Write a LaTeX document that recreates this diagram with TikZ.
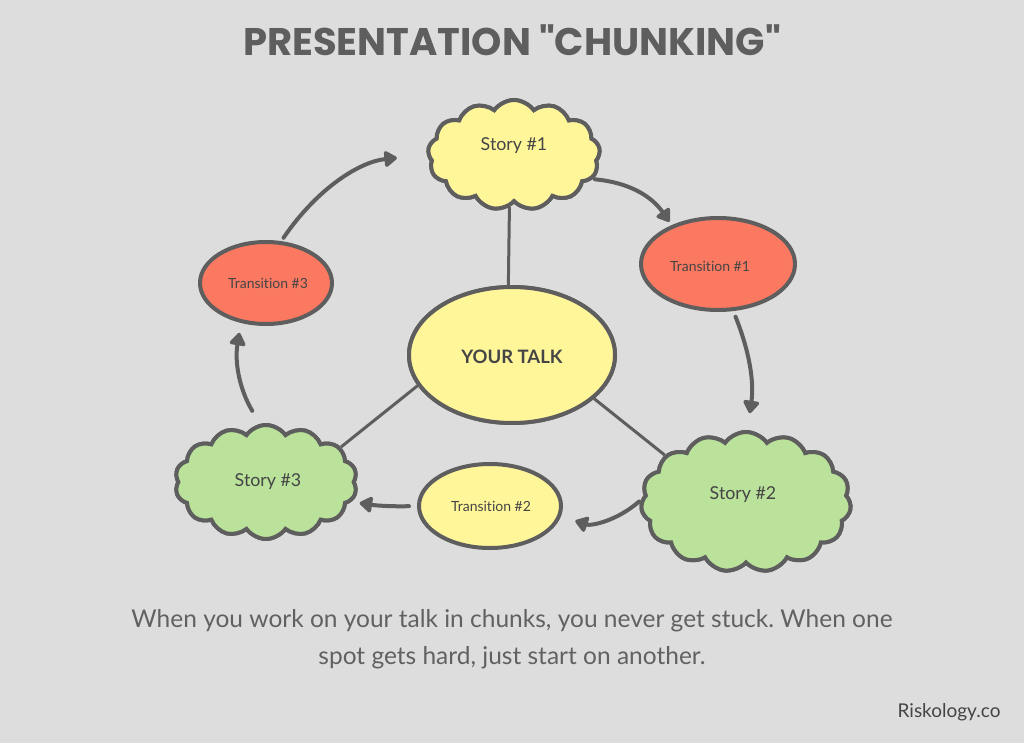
\documentclass[tikz,border=0pt]{standalone}
\usepackage{fontspec}
\setmainfont{Lato}[Ligatures={NoCommon}]
\newfontfamily\titlefont{Poppins}
\usetikzlibrary{shapes.symbols,shapes.geometric,arrows.meta}
\frenchspacing
\definecolor{bg}{HTML}{DDDDDD}
\definecolor{yel}{HTML}{FFF69A}
\definecolor{redb}{HTML}{FB7961}
\definecolor{grn}{HTML}{BAE29A}
\definecolor{edge}{HTML}{5E5E5E}
\definecolor{txt}{HTML}{454545}
\tikzset{
  blob/.style={ellipse, draw=edge, line width=4pt, inner sep=0pt, text=txt},
  puff/.style={cloud, cloud ignores aspect, draw=edge, line width=4pt, inner sep=0pt, text=txt},
  link/.style={draw=edge, line width=3pt},
  arr/.style={draw=edge, line width=4pt, line cap=round, -{Triangle[length=14pt,width=18pt,round]}},
  story/.style={text=txt, font=\fontsize{17.8}{20}\selectfont},
  trans/.style={text=txt, font=\fontsize{14}{16}\selectfont},
  cloudA/.style={puff, fill=yel, cloud puffs=13, cloud puff arc=110, minimum width=172pt, minimum height=110pt},
  cloudB/.style={puff, fill=grn, cloud puffs=15, cloud puff arc=110, minimum width=210pt, minimum height=140pt},
  cloudC/.style={puff, fill=grn, cloud puffs=14, cloud puff arc=110, minimum width=182pt, minimum height=114pt},
  talkshape/.style={blob, fill=yel, minimum width=206pt, minimum height=136pt},
}
\begin{document}
\begin{tikzpicture}[x=1pt,y=-1pt]
\fill[bg] (0,0) rectangle (1024,743);
\useasboundingbox (0,0) rectangle (1024,743);

\node[text=edge, font=\titlefont\bfseries\fontsize{38.5}{44}\selectfont] (title) at (512,40) {PRESENTATION "CHUNKING"};

% shapes (first pass, to place the links)
\node[cloudA] (s1) at (514,155) {};
\node[talkshape] (talk) at (512,355) {};
\node[cloudB] (s2) at (746,502) {};
\node[cloudC] (s3) at (266,482) {};

\draw[link] (s1.265) -- (talk.93);
\draw[link] (talk.198) -- (s3.25);
\draw[link] (talk.-28) -- (s2.150);

% shapes drawn again over the link ends
\node[cloudA] (s1b) at (s1.center) {};
\node[talkshape] (talkb) at (talk.center) {};
\node[cloudB] (s2b) at (s2.center) {};
\node[cloudC] (s3b) at (s3.center) {};

\node[story] (s1t) at ([yshift=9pt]s1.center) {Story \#1};
\node[story] (s2t) at ([xshift=-3pt,yshift=7pt]s2.center) {Story \#2};
\node[story] (s3t) at ([xshift=2pt]s3.center) {Story \#3};
\node[text=txt, font=\bfseries\fontsize{18.5}{20}\selectfont] (talkt) at ([yshift=-2pt]talk.center) {YOUR TALK};

\node[blob, fill=redb, minimum width=154pt, minimum height=92pt] (t1) at (718,264) {};
\node[blob, fill=yel, minimum width=142pt, minimum height=84pt] (t2) at (490,506) {};
\node[blob, fill=redb, minimum width=132pt, minimum height=82pt] (t3) at (266,283) {};
\node[trans] (t1t) at ([xshift=-8pt,yshift=-2pt]t1.center) {Transition \#1};
\node[trans] (t2t) at ([xshift=1pt]t2.center) {Transition \#2};
\node[trans] (t3t) at ([xshift=2pt]t3.center) {Transition \#3};

% arrows
\draw[arr, shorten <=4pt, shorten >=30pt] (t3.70) to[bend left=25] (s1.180);
\draw[arr, shorten <=2pt, shorten >=4pt] (s1.-17) to[bend left=25] (t1.140);
\draw[arr, shorten <=6pt, shorten >=17pt] (t1.-72) to[bend left=15] (s2.89);
\draw[arr, shorten <=2pt, shorten >=15pt] (s2.179) to[bend left=30] (t2.-8);
\draw[arr, shorten <=8pt, shorten >=8pt] (t2.180) to[bend left=5] (s3.-13);
\draw[arr, shorten <=15pt, shorten >=10pt] (s3.96) to[bend left=20] (t3.-122);

\node[text=txt!85, font=\fontsize{24.5}{37}\selectfont, align=center] (cap) at (512,639) {When you work on your talk in chunks, you never get stuck. When one\\spot gets hard, just start on another.};
\node[text=txt, font=\fontsize{19}{21}\selectfont, anchor=east] (brand) at (1004,712) {Riskology.co};
\end{tikzpicture}
\end{document}
